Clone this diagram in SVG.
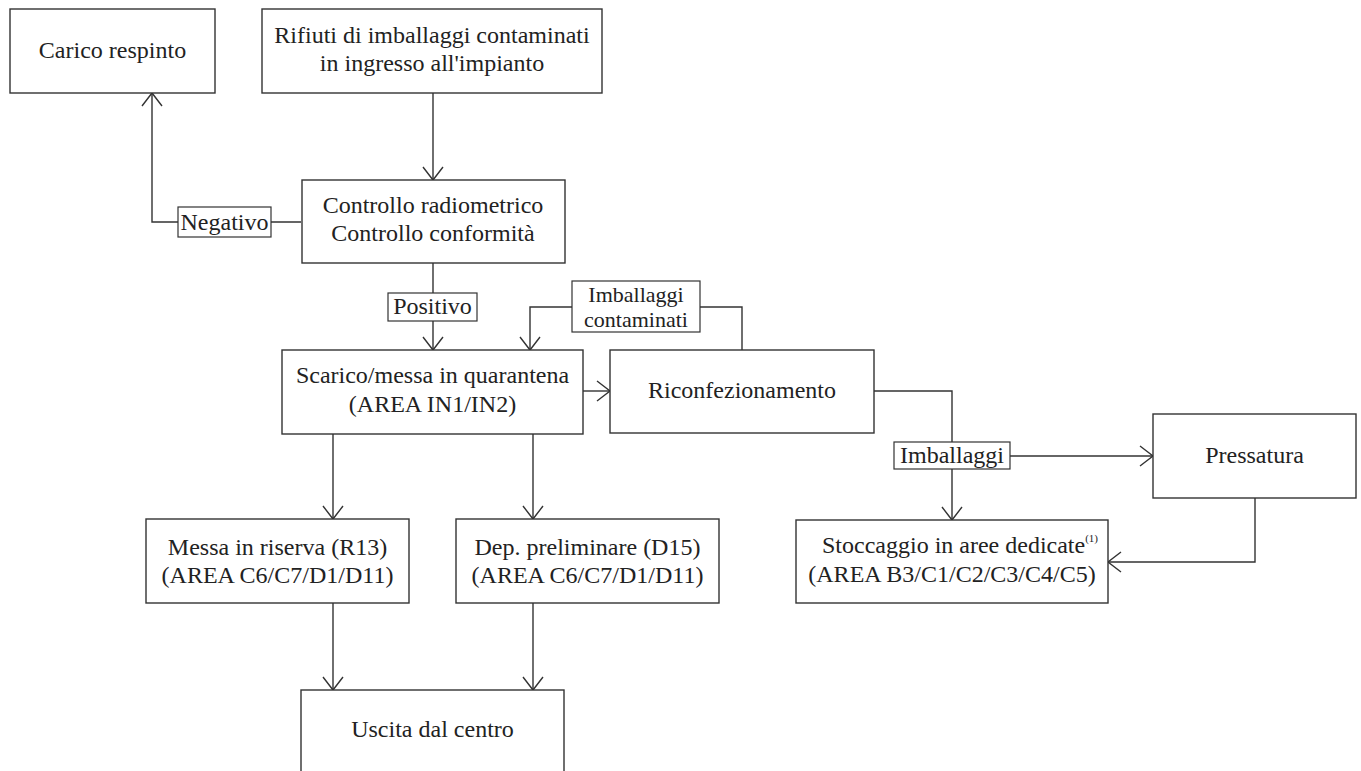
<svg xmlns="http://www.w3.org/2000/svg" width="1361" height="771" viewBox="0 0 1361 771">
<style>
.box{fill:#fff;stroke:#333;stroke-width:1.4}
.lbl{fill:#fff;stroke:#333;stroke-width:1.2}
.t{font-family:"Liberation Serif","Times New Roman",serif;font-size:24px;fill:#222;text-anchor:middle}
.s{font-size:22px}
.c{fill:none;stroke:#333;stroke-width:1.4}
</style>
<defs>
<marker id="arr" markerUnits="userSpaceOnUse" markerWidth="30" markerHeight="30" viewBox="-15 -15 30 30" refX="0" refY="0" orient="auto">
<path d="M-13,-10 L0,0 L-13,10" fill="none" stroke="#333" stroke-width="1.4"/>
</marker>
</defs>
<rect width="1361" height="771" fill="#fff"/>
<g id="connectors">
<path class="c" d="M433,93 V180" marker-end="url(#arr)"/>
<path class="c" d="M301,222 H152 V93" marker-end="url(#arr)"/>
<path class="c" d="M433,263 V350" marker-end="url(#arr)"/>
<path class="c" d="M742,350 V307 H530 V350" marker-end="url(#arr)"/>
<path class="c" d="M583,391 H610" marker-end="url(#arr)"/>
<path class="c" d="M874,391 H952 V520" marker-end="url(#arr)"/>
<path class="c" d="M1010,456 H1153" marker-end="url(#arr)"/>
<path class="c" d="M1255,498 V562 H1108" marker-end="url(#arr)"/>
<path class="c" d="M333,434 V519" marker-end="url(#arr)"/>
<path class="c" d="M533,434 V519" marker-end="url(#arr)"/>
<path class="c" d="M333,603 V690" marker-end="url(#arr)"/>
<path class="c" d="M533,603 V690" marker-end="url(#arr)"/>
<g id="label-negativo"><rect class="lbl" x="178" y="207" width="93" height="30"/><text class="t" x="224.5" y="230">Negativo</text></g>
<g id="label-positivo"><rect class="lbl" x="388" y="293" width="89" height="28"/><text class="t" x="432.5" y="314">Positivo</text></g>
<g id="label-imb-cont"><rect class="lbl" x="572" y="281" width="128" height="51"/><text class="t s" x="636" y="302">Imballaggi</text><text class="t s" x="636" y="327">contaminati</text></g>
<g id="label-imballaggi"><rect class="lbl" x="894" y="442" width="116" height="27"/><text class="t" x="952" y="463">Imballaggi</text></g>
</g>
<g id="n-carico"><rect class="box" x="10" y="9" width="205" height="84"/><text class="t" x="112.5" y="58">Carico respinto</text></g>
<g id="n-rifiuti"><rect class="box" x="262" y="9" width="340" height="84"/><text class="t" x="432" y="43">Rifiuti di imballaggi contaminati</text><text class="t" x="432" y="71">in ingresso all'impianto</text></g>
<g id="n-controllo"><rect class="box" x="302" y="180" width="263" height="83"/><text class="t" x="433" y="213">Controllo radiometrico</text><text class="t" x="433" y="241">Controllo conformità</text></g>
<g id="n-scarico"><rect class="box" x="282" y="350" width="301" height="84"/><text class="t" x="432.5" y="383">Scarico/messa in quarantena</text><text class="t" x="432.5" y="412">(AREA IN1/IN2)</text></g>
<g id="n-riconf"><rect class="box" x="610" y="350" width="264" height="83"/><text class="t" x="742" y="398">Riconfezionamento</text></g>
<g id="n-pressatura"><rect class="box" x="1153" y="414" width="203" height="84"/><text class="t" x="1254.5" y="463">Pressatura</text></g>
<g id="n-messa"><rect class="box" x="146" y="519" width="263" height="84"/><text class="t" x="277.5" y="555">Messa in riserva (R13)</text><text class="t" x="277.5" y="583">(AREA C6/C7/D1/D11)</text></g>
<g id="n-dep"><rect class="box" x="456" y="519" width="263" height="84"/><text class="t" x="587.5" y="555">Dep. preliminare (D15)</text><text class="t" x="587.5" y="583">(AREA C6/C7/D1/D11)</text></g>
<g id="n-stoccaggio"><rect class="box" x="796" y="520" width="312" height="83"/><text class="t" x="960" y="553">Stoccaggio in aree dedicate<tspan font-size="11" dy="-11">(1)</tspan></text><text class="t" x="952" y="582">(AREA B3/C1/C2/C3/C4/C5)</text></g>
<g id="n-uscita"><rect class="box" x="301" y="690" width="263" height="90"/><text class="t" x="432.5" y="737">Uscita dal centro</text></g>
</svg>
